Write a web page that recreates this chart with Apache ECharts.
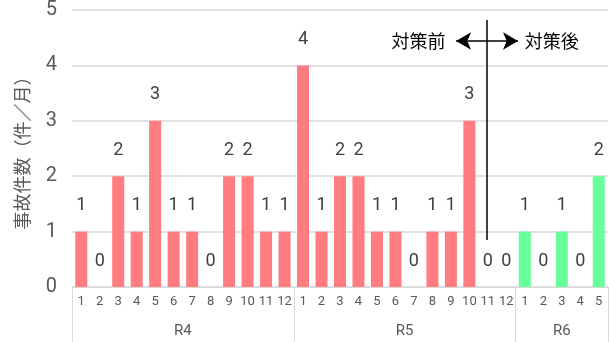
<!DOCTYPE html>
<html>
<head>
<meta charset="utf-8">
<script src="https://cdn.jsdelivr.net/npm/echarts@6/dist/echarts.min.js"></script>
<style>
  html, body { margin: 0; padding: 0; background: #fff; }
  #main { width: 609px; height: 342px; }
</style>
</head>
<body>
<div id="main"></div>
<script>
// data
const months = ['1','2','3','4','5','6','7','8','9','10','11','12',
                '1','2','3','4','5','6','7','8','9','10','11','12',
                '1','2','3','4','5'];
const groups = ['R4', 'R5', 'R6'];
const groupSizes = [12, 12, 5];
const counts = [1,0,2,1,3,1,1,0,2,2,1,1,
                4,1,2,2,1,1,0,1,1,3,0,0,
                1,0,1,0,2];
const yTicks = [0, 1, 2, 3, 4, 5];
const afterStart = 24; // 対策後 starts at R6-1
const dividerIndex = 22;

const pink = '#FF7C80';
const green = '#66FF99';

// group boundaries / centers on the helper value axis
const bounds = [-0.5];
const centers = [];
groupSizes.forEach(function (n, i) {
  const start = bounds[i];
  bounds.push(start + n);
  centers.push(start + n / 2);
});

const myChart = echarts.init(document.getElementById('main'));

const option = {
  animation: false,
  backgroundColor: '#fff',
  grid: { left: 72, right: 1, top: 10, bottom: 55 },
  xAxis: [
    {
      type: 'category',
      data: months,
      axisLine: { lineStyle: { color: '#D9D9D9' } },
      axisTick: { show: false },
      axisLabel: { interval: 0, color: '#595959', fontSize: 13, margin: 8, fontFamily: 'Roboto' }
    },
    {
      type: 'value',
      min: -0.5,
      max: 28.5,
      position: 'bottom',
      axisLine: { show: false },
      splitLine: { show: false },
      axisTick: {
        show: true,
        customValues: bounds,
        length: 55,
        lineStyle: { color: '#D9D9D9' }
      },
      axisLabel: {
        customValues: centers,
        color: '#595959',
        fontSize: 15,
        margin: 37,
        fontFamily: 'Roboto',
        formatter: function (v) {
          const i = centers.indexOf(v);
          return i >= 0 ? groups[i] : '';
        }
      }
    }
  ],
  yAxis: {
    type: 'value',
    min: 0,
    max: 5,
    interval: 1,
    name: '事故件数（件／月）',
    nameLocation: 'middle',
    nameGap: 41,
    nameTextStyle: { color: '#595959', fontSize: 18, fontFamily: 'Noto Sans CJK JP' },
    axisLine: { show: false },
    axisTick: { show: false },
    axisLabel: {
      color: '#595959', fontSize: 20, margin: 15, fontFamily: 'Roboto',
      formatter: function (v) { return yTicks.indexOf(v) >= 0 ? String(v) : ''; }
    },
    splitLine: { lineStyle: { color: '#D9D9D9', width: 1.5 } }
  },
  series: [
    {
      type: 'bar',
      data: counts,
      barCategoryGap: '35%',
      itemStyle: {
        color: function (p) { return p.dataIndex >= afterStart ? green : pink; }
      },
      label: {
        show: true,
        position: 'top',
        distance: 17,
        color: '#404040',
        fontSize: 18,
        fontFamily: 'Roboto'
      }
    },
    {
      type: 'line',
      xAxisIndex: 1,
      data: [],
      silent: true,
      markLine: {
        silent: true,
        animation: false,
        label: { show: false },
        data: [
          [
            { coord: [dividerIndex - 0.05, 0.85], symbol: 'none' },
            { coord: [dividerIndex - 0.05, 4.82], symbol: 'none' }
          ],
          [
            { coord: [20.28, 4.44], symbol: 'arrow', symbolSize: [13, 15] },
            { coord: [23.63, 4.44], symbol: 'arrow', symbolSize: [13, 15] }
          ]
        ],
        lineStyle: { color: '#000', width: 1.5, type: 'solid' }
      },
      markPoint: {
        silent: true,
        symbol: 'circle',
        symbolSize: 0,
        label: {
          show: true,
          color: '#000',
          fontSize: 18,
          fontFamily: 'Noto Sans CJK JP',
          formatter: function (p) { return p.name; }
        },
        data: [
          { name: '対策前', coord: [18.25, 4.44] },
          { name: '対策後', coord: [25.45, 4.44] }
        ]
      }
    }
  ]
};

myChart.setOption(option);
</script>
</body>
</html>
